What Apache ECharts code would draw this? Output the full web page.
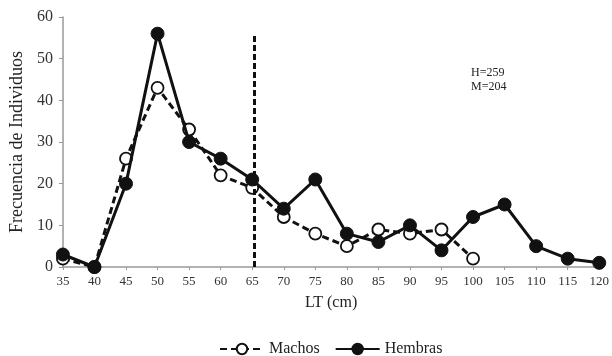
<!DOCTYPE html>
<html>
<head>
<meta charset="utf-8">
<script src="https://cdn.jsdelivr.net/npm/echarts@6/dist/echarts.min.js"></script>
<style>html,body{margin:0;padding:0;background:#fff}#c{width:612px;height:356px}</style>
</head>
<body>
<div id="c"></div>
<script>
// Length classes (cm) and counts per sex
const lengths = [35, 40, 45, 50, 55, 60, 65, 70, 75, 80, 85, 90, 95, 100, 105, 110, 115, 120];
const machos = [2, 0, 26, 43, 33, 22, 19, 12, 8, 5, 9, 8, 9, 2];
const hembras = [3, 0, 20, 56, 30, 26, 21, 14, 21, 8, 6, 10, 4, 12, 15, 5, 2, 1];
const yTicks = [0, 10, 20, 30, 40, 50, 60];
const cutLength = 65.3;
const cutTop = 56;
const notes = ['H=259', 'M=204'];

const serif = 'Liberation Serif';
const pair = (vals) => vals.map((v, i) => [lengths[i], v]);

const chart = echarts.init(document.getElementById('c'));
chart.setOption({
  animation: false,
  textStyle: { fontFamily: serif },
  grid: { left: 62, right: 9, top: 17, bottom: 89, containLabel: false },
  legend: {
    top: 336, left: 214, itemGap: 15, itemWidth: 44, itemHeight: 13,
    textStyle: { fontFamily: serif, fontSize: 16, color: '#222' },
    data: ['Machos', 'Hembras']
  },
  xAxis: {
    type: 'value', min: 35, max: 120, interval: 5,
    name: 'LT (cm)', nameLocation: 'middle', nameGap: 28,
    nameTextStyle: { fontFamily: serif, fontSize: 16, color: '#222' },
    axisLine: { lineStyle: { color: '#999', width: 1.5 } },
    axisTick: { show: true, length: 3, lineStyle: { color: '#999' } },
    axisLabel: { fontFamily: serif, fontSize: 13, color: '#333', margin: 8 },
    splitLine: { show: false }
  },
  yAxis: {
    type: 'value', min: yTicks[0], max: yTicks[yTicks.length - 1], interval: 10,
    name: 'Frecuencia de Individuos', nameLocation: 'middle', nameGap: 32,
    nameTextStyle: { fontFamily: serif, fontSize: 18, color: '#222' },
    axisLine: { show: true, lineStyle: { color: '#999', width: 1.5 } },
    axisTick: { show: true, length: 4, lineStyle: { color: '#999' } },
    axisLabel: { fontFamily: serif, fontSize: 16, color: '#333', margin: 10 },
    splitLine: { show: false }
  },
  graphic: [{
    type: 'text', left: 471, top: 66,
    style: { text: notes.join('\n'), fontFamily: serif, fontSize: 12, lineHeight: 14, fill: '#222' }
  }],
  series: [
    {
      name: 'Machos', type: 'line', data: pair(machos), z: 3,
      symbol: 'circle', symbolSize: 12,
      lineStyle: { color: '#111', width: 3, type: [7, 4] },
      itemStyle: { color: '#fff', borderColor: '#111', borderWidth: 1.8 },
      markLine: {
        silent: true, symbol: 'none', label: { show: false },
        lineStyle: { color: '#111', width: 3, type: [6, 3] },
        data: [[{ coord: [cutLength, 0] }, { coord: [cutLength, cutTop] }]]
      }
    },
    {
      name: 'Hembras', type: 'line', data: pair(hembras), z: 4,
      symbol: 'circle', symbolSize: 13,
      lineStyle: { color: '#111', width: 3 },
      itemStyle: { color: '#111', borderColor: '#111', borderWidth: 1 }
    }
  ]
});
</script>
</body>
</html>
